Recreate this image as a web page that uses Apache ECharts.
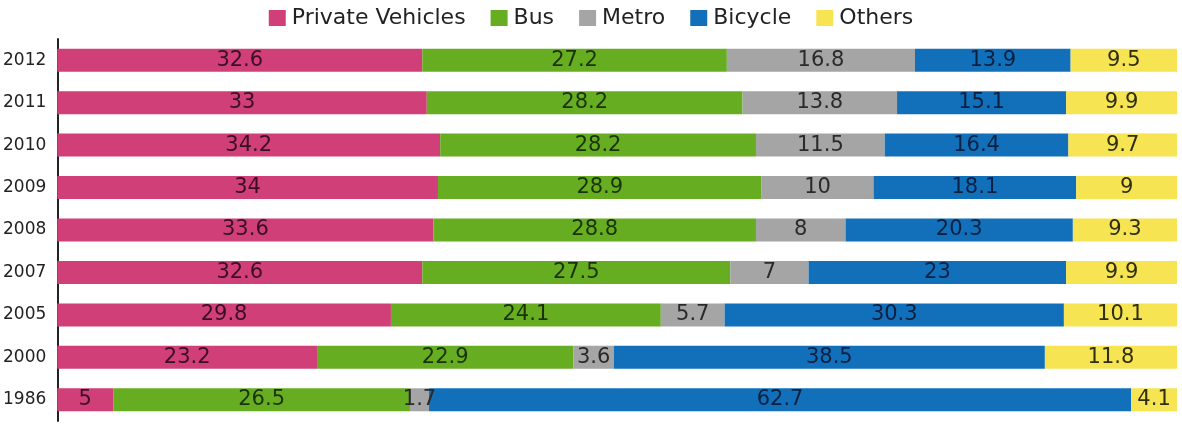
<!DOCTYPE html>
<html><head><meta charset="utf-8">
<script src="https://cdn.jsdelivr.net/npm/echarts@6/dist/echarts.min.js"></script>
<style>html,body{margin:0;padding:0;background:#fff}#c{width:1182px;height:427px}</style>
</head><body><div id="c"></div>
<script>
const years = ['1986','2000','2005','2007','2008','2009','2010','2011','2012'];
const seriesNames = ['Private Vehicles','Bus','Metro','Bicycle','Others'];
const privateVehicles = [5, 23.2, 29.8, 32.6, 33.6, 34, 34.2, 33, 32.6];
const bus = [26.5, 22.9, 24.1, 27.5, 28.8, 28.9, 28.2, 28.2, 27.2];
const metro = [1.7, 3.6, 5.7, 7, 8, 10, 11.5, 13.8, 16.8];
const bicycle = [62.7, 38.5, 30.3, 23, 20.3, 18.1, 16.4, 15.1, 13.9];
const others = [4.1, 11.8, 10.1, 9.9, 9.3, 9, 9.7, 9.9, 9.5];

const values = [privateVehicles, bus, metro, bicycle, others];
const colors = ['#d13f78', '#67ad22', '#a5a5a5', '#1270bb', '#f6e452'];
const labelColors = ['#3a0f25', '#1a3306', '#2a2a2a', '#0a2040', '#2e2e10'];

const chart = echarts.init(document.getElementById('c'), null, {renderer: 'canvas'});
chart.setOption({
  animation: false,
  legend: {
    top: 2, left: 'center',
    icon: 'rect',
    itemWidth: 17, itemHeight: 16, itemGap: 25,
    textStyle: {fontFamily: 'DejaVu Sans', fontSize: 22, color: '#222', padding: [0, 0, 0, 1]},
    data: seriesNames
  },
  grid: {left: 57, right: 5, top: 39, bottom: 6, containLabel: false},
  xAxis: {type: 'value', min: 0, max: 100, show: false},
  yAxis: {
    type: 'category', data: years,
    axisLine: {show: true, lineStyle: {color: '#222', width: 2}},
    axisTick: {show: false},
    axisLabel: {fontFamily: 'DejaVu Sans', fontSize: 17, color: '#222', margin: 11}
  },
  series: seriesNames.map((name, i) => ({
    name, type: 'bar', stack: 'total',
    data: values[i],
    barWidth: 23,
    itemStyle: {color: colors[i]},
    label: {
      show: true, position: 'inside',
      fontFamily: 'DejaVu Sans', fontSize: 21, color: labelColors[i]
    }
  }))
});
</script></body></html>
